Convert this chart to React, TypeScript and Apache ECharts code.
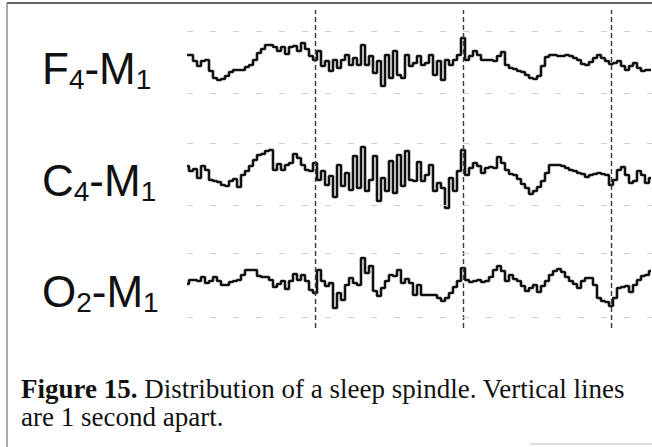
import { useEffect, useRef } from "react";
import * as echarts from "echarts";

// EEG derivations (label parts: main, subscript, main, subscript)
const CHANNEL_LABELS = [
  ["F", "4", "-M", "1"],
  ["C", "4", "-M", "1"],
  ["O", "2", "-M", "1"],
];
const SAMPLE_RATE = 37; // samples per second
const START_TIME = 0.135; // s
const END_TIME = 3.277; // s
const SECOND_MARKS = [1, 2, 3]; // vertical lines, 1 s apart
const GUIDE_LEVELS = [31, 31, 32]; // dotted guide amplitude per channel

const F4 = [7,7,1,-4,1,2,-9,-16,-18,-17,-14,-10,-8,-8,-8,-5,-3,2,9,13,17,17,15,11,15,8,15,16,11,19,13,6,2,11,-4,1,-9,2,-6,2,7,-3,4,-3,17,-3,6,-11,1,-24,7,-16,11,-13,-16,7,-4,-1,6,-3,-1,7,-13,1,-18,2,-3,2,7,24,2,6,11,7,2,2,2,1,6,10,-3,-6,-7,-9,-10,-13,-16,-17,-14,-4,5,7,7,6,6,7,6,4,2,-2,-3,0,4,7,4,1,-2,-1,1,-4,-8,-4,-1,-6,-9,-8,-8];
const C4 = [8,3,5,-4,8,4,-6,-7,-8,-11,-12,-7,-5,-13,-1,3,8,14,19,20,23,24,4,10,4,9,11,20,16,9,4,3,11,-6,3,-11,-2,-23,9,-12,1,-16,18,-14,27,-17,-6,18,-27,-4,-17,13,-19,19,-12,23,-6,-7,12,-7,-1,9,-17,-9,-14,-34,-4,-17,3,24,-1,6,11,8,1,6,7,6,17,11,4,0,-1,-5,-10,-14,-20,-17,-13,-7,1,9,9,9,8,6,4,3,1,0,-3,-1,0,1,0,-1,-11,-6,4,7,-1,-9,-7,3,-1,-9,-4];
const O2 = [1,5,5,4,8,2,4,8,4,0,0,3,4,5,10,15,15,15,9,8,8,5,-2,1,4,-4,4,11,5,10,4,-5,-8,15,4,-1,2,-23,-8,-15,0,7,2,0,27,12,19,-6,-11,-3,4,10,9,15,2,6,2,-10,0,-10,-10,-10,-10,-13,-16,-13,-8,-2,4,17,5,3,4,5,3,4,8,15,19,14,4,10,6,4,-1,-6,-3,0,-7,-1,4,10,14,16,13,8,4,1,-3,4,7,7,0,-13,-16,-17,-21,-13,-3,-2,-1,-7,0,5,9,10,14];

const SIGNALS = [F4, C4, O2];

const CAPTION_BOLD = "Figure 15.";
const CAPTION_LINE1 = " Distribution of a sleep spindle. Vertical lines";
const CAPTION_LINE2 = "are 1 second apart.";

const GRIDS = [
  { top: 10, height: 108, min: -56, max: 52, labelY: 84 },
  { top: 118, height: 112, min: -56, max: 56, labelY: 196 },
  { top: 230, height: 98, min: -43, max: 55, labelY: 307 },
];

export default function App() {
  const ref = useRef<HTMLDivElement>(null);
  useEffect(() => {
    if (!ref.current) return;
    const chart = echarts.init(ref.current, null, { renderer: "svg" });
    const sansName = "Liberation Sans";
    const sans = "'Liberation Sans', Arial, sans-serif";
    const serif = "'Liberation Serif', 'Times New Roman', serif";
    const cv = document.createElement("canvas");
    const ctx = cv.getContext("2d")!;
    const measure = (text: string, font: string) => {
      ctx.font = font;
      return ctx.measureText(text).width;
    };
    const vStyle = { color: "#3a3a3a", width: 1.4, type: [5, 3] as any };

    const series = SIGNALS.map((sig, i) => ({
      type: "line",
      xAxisIndex: i,
      yAxisIndex: i,
      step: "middle",
      showSymbol: false,
      lineStyle: { color: "#111", width: 2.6 },
      data: sig.map((v, k) => [START_TIME + k / SAMPLE_RATE, v]),
      markLine: {
        silent: true,
        symbol: "none",
        label: { show: false },
        data: [
          ...SECOND_MARKS.map((s) => ({ xAxis: s, lineStyle: vStyle })),
          { yAxis: GUIDE_LEVELS[i], lineStyle: { color: "#cfcfcf", width: 1, type: [6, 17] } },
          { yAxis: -GUIDE_LEVELS[i], lineStyle: { color: "#cfcfcf", width: 1, type: [6, 17] } },
        ],
      },
    }));

    const MAIN = 44;
    const SUB = 28;
    const labelEls: any[] = [];
    CHANNEL_LABELS.forEach((parts, i) => {
      const base = GRIDS[i].labelY;
      let x = 42;
      parts.forEach((p, j) => {
        const sub = j % 2 === 1;
        const size = sub ? SUB : MAIN;
        const baseline = sub ? base + 5 : base;
        labelEls.push({
          type: "text",
          x,
          y: baseline - 0.347 * size,
          style: {
            text: p,
            fontSize: size,
            fontFamily: sans,
            fill: "#111",
            textAlign: "left",
            textVerticalAlign: "middle",
            verticalAlign: "middle",
          },
        });
        x += measure(p, `${size}px '${sansName}'`);
      });
    });

    const CAP = 27;
    const captionEls: any[] = [
      {
        type: "text",
        x: 21,
        y: 389,
        style: {
          text: "{b|" + CAPTION_BOLD + "}" + CAPTION_LINE1,
          fontSize: CAP,
          fontFamily: serif,
          fill: "#111",
          textAlign: "left",
          textVerticalAlign: "middle",
          verticalAlign: "middle",
          rich: { b: { fontWeight: "bold", fontSize: CAP, fontFamily: serif, fill: "#111" } },
        },
      },
      {
        type: "text",
        x: 21,
        y: 417,
        style: {
          text: CAPTION_LINE2,
          fontSize: CAP,
          fontFamily: serif,
          fill: "#111",
          textAlign: "left",
          textVerticalAlign: "middle",
          verticalAlign: "middle",
        },
      },
    ];

    chart.setOption({
      animation: false,
      backgroundColor: "#fff",
      grid: GRIDS.map((g) => ({ left: 187, right: 0, top: g.top, height: g.height })),
      xAxis: GRIDS.map((_, i) => ({ type: "value", gridIndex: i, min: START_TIME, max: END_TIME, show: false })),
      yAxis: GRIDS.map((g, i) => ({ type: "value", gridIndex: i, min: g.min, max: g.max, show: false })),
      series,
      graphic: [
        { type: "line", shape: { x1: 7, y1: 3, x2: 652, y2: 3 }, style: { stroke: "#333", lineWidth: 1.5 } },
        { type: "line", shape: { x1: 7, y1: 3, x2: 7, y2: 447 }, style: { stroke: "#555", lineWidth: 1 } },
        { type: "line", shape: { x1: 530, y1: 444, x2: 652, y2: 444 }, style: { stroke: "#bbb", lineWidth: 1 } },
        ...labelEls,
        ...captionEls,
      ],
    });
    return () => chart.dispose();
  }, []);
  return <div ref={ref} style={{ width: 652, height: 447, position: "absolute", left: 0, top: 0 }} />;
}
